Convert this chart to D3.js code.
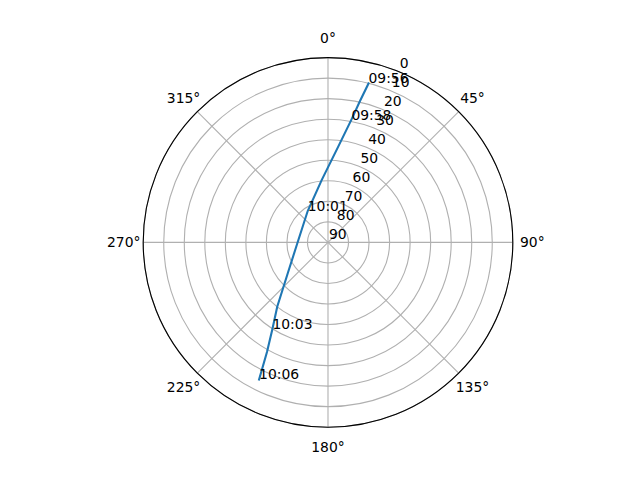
<!DOCTYPE html>
<html>
<head>
<meta charset="utf-8">
<script src="https://cdn.jsdelivr.net/npm/d3@7"></script>
<style>
  body { margin: 0; background: #fff; }
  text { font-family: "DejaVu Sans", sans-serif; font-size: 13.9px; }
</style>
</head>
<body>
<svg id="sky" width="640" height="480"></svg>
<script>
// satellite track: azimuth (deg, clockwise from north) and elevation (deg)
const azimuth = [14.3, 12.75, 10.8, 6.1, 354.2, 327.1, 268.9, 232.5, 218.3, 212.7, 209.1, 206.7];
const elevation = [10.1, 19.4, 29.1, 43.1, 59.5, 71.8, 75.1, 65.3, 50.1, 39.9, 28.9, 15.3];

// time annotations and the track sample each one sits on
const labelText = ["09:56", "09:58", "10:01", "10:03", "10:06"];
const labelAt = [0, 2, 5, 9, 11];

const elevTicks = [0, 10, 20, 30, 40, 50, 60, 70, 80, 90];
const azTicks = [0, 45, 90, 135, 180, 225, 270, 315];

const cx = 328, cy = 242.4, R = 184.8;
const rad = (d) => (d * Math.PI) / 180;

let rScale = d3.scaleLinear().domain([0, 90]).range([R, 0]);

let svg = d3.select("#sky");
let g = svg.append("g").attr("transform", `translate(${cx}, ${cy})`);

// grid circles
g.selectAll("circle.grid")
    .data(elevTicks.filter((t) => t < 90))
    .enter()
    .append("circle")
    .attr("class", "grid")
    .attr("r", (d) => rScale(d))
    .attr("fill", "none")
    .attr("stroke", "#b0b0b0")
    .attr("stroke-width", 1.1);

// spokes
g.selectAll("line.spoke")
    .data(azTicks)
    .enter()
    .append("line")
    .attr("x1", 0)
    .attr("y1", 0)
    .attr("x2", (d) => R * Math.sin(rad(d)))
    .attr("y2", (d) => -R * Math.cos(rad(d)))
    .attr("stroke", "#b0b0b0")
    .attr("stroke-width", 1.1);

// outer spine
g.append("circle")
    .attr("r", R)
    .attr("fill", "none")
    .attr("stroke", "black")
    .attr("stroke-width", 1.1);

// radial (elevation) labels along 22.5 deg
const rLabelAngle = rad(22.5);
g.selectAll("text.rlabel")
    .data(elevTicks)
    .enter()
    .append("text")
    .attr("x", (d) => rScale(d) * Math.sin(rLabelAngle) + 1)
    .attr("y", (d) => -rScale(d) * Math.cos(rLabelAngle) - 3.5)
    .attr("text-anchor", "start")
    .text((d) => d);

// azimuth labels
g.selectAll("text.alabel")
    .data(azTicks)
    .enter()
    .append("text")
    .attr("x", (d) => (R + 19.5) * Math.sin(rad(d)))
    .attr("y", (d) => -(R + 19.5) * Math.cos(rad(d)))
    .attr("text-anchor", "middle")
    .attr("dominant-baseline", "central")
    .text((d) => d + "°");

// track
const track = azimuth.map((a, i) => ({ az: a, el: elevation[i] }));
let line = d3
    .lineRadial()
    .angle((d) => rad(d.az))
    .radius((d) => rScale(d.el));

g.append("path")
    .datum(track)
    .attr("d", line)
    .attr("fill", "none")
    .attr("stroke", "#1f77b4")
    .attr("stroke-width", 2.1)
    .attr("stroke-linecap", "square");

// time annotations
g.selectAll("text.tlabel")
    .data(labelText)
    .enter()
    .append("text")
    .attr("x", (d, i) => rScale(track[labelAt[i]].el) * Math.sin(rad(track[labelAt[i]].az)))
    .attr("y", (d, i) => -rScale(track[labelAt[i]].el) * Math.cos(rad(track[labelAt[i]].az)))
    .attr("text-anchor", "start")
    .text((d) => d);
</script>
</body>
</html>
